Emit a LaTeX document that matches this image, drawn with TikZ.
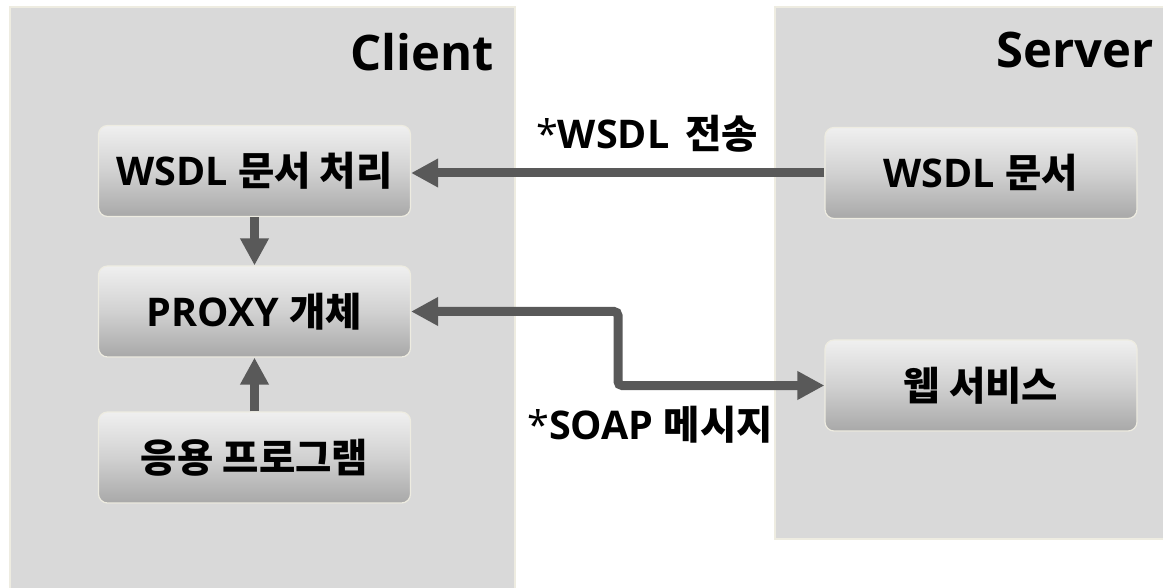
\documentclass[tikz,border=0pt]{standalone}
\usepackage{fontspec}
\setmainfont{Open Sans}
\newfontfamily\kr{Noto Sans CJK KR}
\newcommand\K[1]{{\kr #1}}
\usetikzlibrary{arrows.meta}
\definecolor{panel}{HTML}{D9D9D9}
\definecolor{panelline}{HTML}{EEECE1}
\definecolor{arr}{HTML}{595959}
\tikzset{
  panelbox/.style={fill=panel, draw=panelline, line width=1.5pt},
  procbox/.style={rounded corners=9pt, draw=panelline, line width=1.2pt,
    top color=white!94!black, bottom color=black!34, middle color=black!18,
    minimum width=312pt, minimum height=91pt, inner sep=0pt,
    font=\bfseries\fontsize{39.5}{42}\selectfont},
  title/.style={font=\bfseries\fontsize{49}{53}\selectfont, anchor=east, inner sep=0pt},
  lbl/.style={font=\bfseries\fontsize{39.5}{42}\selectfont, inner sep=0pt},
  conn/.style={draw=arr, line width=9pt, -{Triangle[length=27pt,width=27pt]}},
}
\begin{document}
\begin{tikzpicture}[x=1pt,y=-1pt]
\useasboundingbox (0,0) rectangle (1163,588);
\clip (0,0) rectangle (1163,588);
% panels
\path[panelbox] (10,7) rectangle (515,600);
\path[panelbox] (775,7) rectangle (1175,539);
\node[title] (client) at (494,52) {Client};
\node[title] (server) at (1154,50) {Server};
% boxes
\node[procbox] (wproc) at (254.5,171) {WSDL \K{문서 처리}};
\node[procbox] (proxy) at (254.5,311.5) {PROXY \K{개체}};
\node[procbox] (app) at (254.5,457.5) {\K{응용 프로그램}};
\node[procbox] (wdoc) at (981,173) {WSDL \K{문서}};
\node[procbox] (web) at (981,385.5) {\K{웹 서비스}};
% connectors
\draw[conn] (wdoc.west) -- (wproc.east |- wdoc.west);
\draw[conn] (wproc.south) -- (proxy.north);
\draw[conn] (app.north) -- (proxy.south);
\coordinate (bend) at (618,350);
\draw[conn, {Triangle[length=27pt,width=27pt]}-{Triangle[length=27pt,width=27pt]}, rounded corners=4pt]
  (proxy.east) -| (bend) |- (web.west);
% labels
\node[lbl] (l1) at (647,134) {{\mdseries *}WSDL\hspace{0.4em}\K{전송}};
\node[lbl] (l2) at (650,425) {{\mdseries *}SOAP \K{메시지}};
\end{tikzpicture}
\end{document}
